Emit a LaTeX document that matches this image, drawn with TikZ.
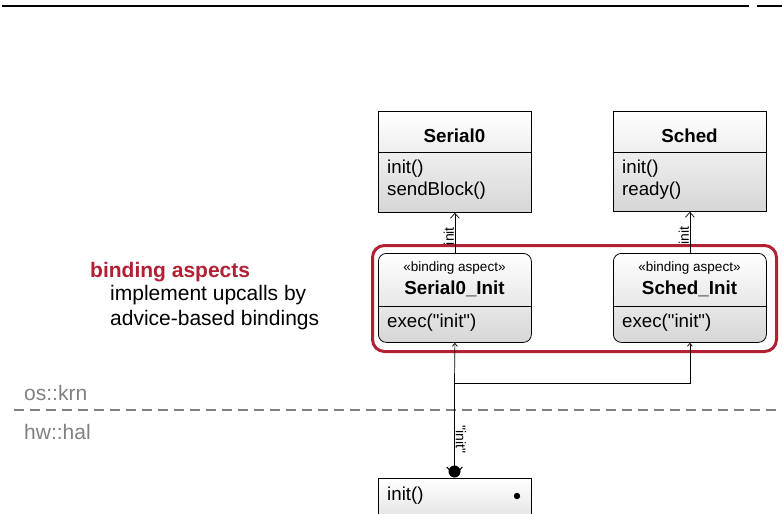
\documentclass[tikz,border=0pt]{standalone}
\usepackage{fontspec}
\setmainfont{Liberation Sans}
\usetikzlibrary{arrows.meta}
\definecolor{bred}{RGB}{178,32,52}
\definecolor{lgray}{RGB}{128,128,128}
\begin{document}
\begin{tikzpicture}[x=1pt,y=-1pt,
  umlbox/.style={draw=black, line width=0.8pt, top color=white, bottom color=black!16,
    inner sep=0pt, anchor=north west, minimum width=153pt},
  aspbox/.style={umlbox, rounded corners=8pt},
  boxtxt/.style={font=\fontsize{18.7}{22}\selectfont, anchor=west, inner sep=0pt},
  titletxt/.style={font=\bfseries\fontsize{18.8}{22}\selectfont, inner sep=0pt},
  stereo/.style={font=\fontsize{13.5}{16}\selectfont, inner sep=0pt},
  legend/.style={font=\fontsize{21}{25}\selectfont, anchor=west, inner sep=0pt},
  lbl/.style={font=\fontsize{14}{16}\selectfont, inner sep=0.5pt},
  tip/.style={-{Straight Barb[length=5pt,width=9pt]}},
  smalltip/.style={-{Straight Barb[length=3pt,width=5pt]}}]
\useasboundingbox (0,0) rectangle (782,514);
\clip (0,0) rectangle (782,514);

% top rule
\draw[line width=2pt] (2,6) -- (749,6);
\draw[line width=2pt] (757,6) -- (782,6);

% Serial0
\node[umlbox, minimum height=101pt] (serial) at (378,111) {};
\draw[line width=0.8pt] (378,152) -- (531,152);
\node[titletxt] (serialT) at (454.5,136) {Serial0};
\node[boxtxt] (serialM1) at (387,169) {init()};
\node[boxtxt] (serialM2) at (387,191) {sendBlock()};

% Sched
\node[umlbox, minimum height=100pt] (sched) at (613,111) {};
\draw[line width=0.8pt] (613,152) -- (766,152);
\node[titletxt] (schedT) at (689.5,136) {Sched};
\node[boxtxt] (schedM1) at (622,169) {init()};
\node[boxtxt] (schedM2) at (622,191) {ready()};

% red group
\node[draw=bred, line width=3pt, rounded corners=12pt, anchor=north west,
  minimum width=404pt, minimum height=106pt, inner sep=0pt] (grp) at (371,244) {};

% Serial0_Init
\node[aspbox, minimum height=89pt] (sinit) at (378,253) {};
\draw[line width=0.8pt] (378,306) -- (531,306);
\node[stereo] (sinitS) at (454.5,268) {«binding aspect»};
\node[titletxt] (sinitT) at (454.5,289) {Serial0\_Init};
\node[boxtxt] (sinitM) at (387,323) {exec(\textquotedbl init\textquotedbl)};

% Sched_Init
\node[aspbox, minimum height=89pt] (schinit) at (613,253) {};
\draw[line width=0.8pt] (613,306) -- (766,306);
\node[stereo] (schinitS) at (689.5,268) {«binding aspect»};
\node[titletxt] (schinitT) at (689.5,289) {Sched\_Init};
\node[boxtxt] (schinitM) at (622,323) {exec(\textquotedbl init\textquotedbl)};

% upcall arrows
\draw[tip, line width=0.7pt] (sinit.north) -- (serial.south)
  node[lbl, rotate=90, pos=0.42, anchor=south] (l1) {init};
\draw[tip, line width=0.7pt] (schinit.north) -- (sched.south)
  node[lbl, rotate=90, pos=0.42, anchor=south] (l2) {init};

% legend
\node[legend, font=\bfseries\fontsize{21}{25}\selectfont, text=bred] (lg1) at (90,272) {binding aspects};
\node[legend] (lg2) at (110,295) {implement upcalls by};
\node[legend] (lg3) at (110,320) {advice-based bindings};

% layer separator
\draw[lgray, line width=2.5pt, dash pattern=on 10pt off 6pt] (14,410) -- (782,410);
\node[legend, text=lgray] (os) at (24,393) {os::krn};
\node[legend, text=lgray] (hw) at (24,432) {hw::hal};

% hal box
\node[umlbox, minimum height=60pt] (hal) at (378,478) {};
\node[boxtxt] (halM) at (387,496) {init()};
\fill (517,496) circle (3.2pt);

% binding connector
\coordinate (br) at (454.5,383);
\coordinate (ball) at (454.5,471.5);
\draw[smalltip, line width=0.7pt] (br) -- (sinit.south);
\draw[smalltip, line width=0.7pt] (br) -| (schinit.south);
\draw[line width=1.5pt] (ball) -- (br)
  node[lbl, rotate=-90, pos=0.36, anchor=south] (l3) {\textquotedbl init\textquotedbl};
\fill (ball) circle (6pt);
\draw[line width=1pt] ([shift={(30:9pt)}]ball) arc[start angle=-30, end angle=-150, radius=9pt];
\end{tikzpicture}
\end{document}
